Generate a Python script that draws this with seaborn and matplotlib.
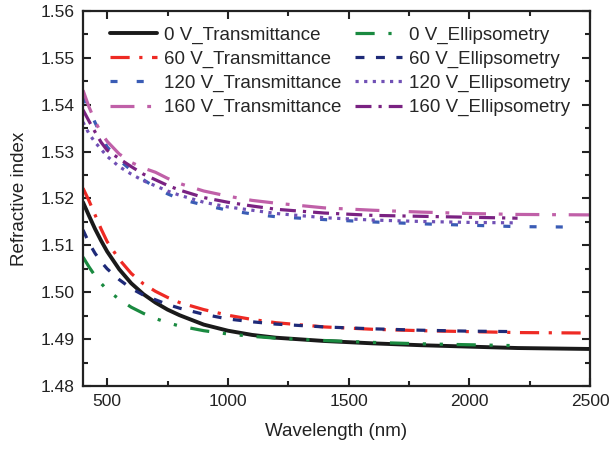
import matplotlib
matplotlib.use('Agg')
import matplotlib.pyplot as plt
from matplotlib.ticker import MultipleLocator
import seaborn as sns

# wavelength grids (nm)
wl_trans = [400, 425, 450, 475, 500, 550, 600, 650, 700, 750, 800, 900, 1000, 1100, 1200,
            1400, 1600, 1800, 2000, 2200, 2500]
wl_ellip = [400, 425, 450, 475, 500, 550, 600, 650, 700, 750, 800, 900, 1000, 1100, 1200,
            1400, 1600, 1800, 2000, 2200]
wl_120t = [400, 425, 450, 475, 500, 550, 600, 650, 700, 750, 800, 900, 1000, 1100, 1200,
           1400, 1600, 1800, 2000, 2200, 2450]

# refractive index values
n_0v_trans = [1.5192, 1.5163, 1.5135, 1.5110, 1.5087, 1.5049, 1.5019, 1.4996, 1.4978, 1.4963, 1.4951,
              1.4931, 1.4918, 1.4909, 1.4903, 1.4896, 1.4891, 1.4887, 1.4884, 1.4881, 1.4879]
n_60v_trans = [1.5222, 1.5195, 1.5165, 1.5135, 1.5108, 1.5070, 1.5040, 1.5018, 1.5002, 1.4989, 1.4978,
               1.4963, 1.4951, 1.4942, 1.4935, 1.4926, 1.4921, 1.4918, 1.4916, 1.4914, 1.4913]
n_120v_trans = [1.5417, 1.5390, 1.5362, 1.5335, 1.5310, 1.5282, 1.5260, 1.5240, 1.5224, 1.5210, 1.5199,
                1.5186, 1.5175, 1.5167, 1.5161, 1.5155, 1.5150, 1.5146, 1.5143, 1.5140, 1.5139]
n_160v_trans = [1.5431, 1.5395, 1.5365, 1.5340, 1.5322, 1.5295, 1.5277, 1.5265, 1.5256, 1.5243, 1.5232,
                1.5216, 1.5205, 1.5196, 1.5190, 1.5180, 1.5175, 1.5171, 1.5168, 1.5166, 1.5165]
n_0v_ellip = [1.5075, 1.5054, 1.5035, 1.5019, 1.5005, 1.4985, 1.4968, 1.4955, 1.4944, 1.4935, 1.4928,
              1.4918, 1.4911, 1.4906, 1.4902, 1.4897, 1.4893, 1.4890, 1.4888, 1.4886]
n_60v_ellip = [1.5133, 1.5105, 1.5083, 1.5065, 1.5050, 1.5027, 1.5008, 1.4994, 1.4984, 1.4974, 1.4966,
               1.4953, 1.4943, 1.4937, 1.4932, 1.4926, 1.4922, 1.4919, 1.4917, 1.4916]
n_120v_ellip = [1.5363, 1.5338, 1.5320, 1.5305, 1.5290, 1.5268, 1.5252, 1.5238, 1.5227, 1.5216, 1.5207,
                1.5192, 1.5182, 1.5175, 1.5168, 1.5159, 1.5154, 1.5151, 1.5149, 1.5148]
n_160v_ellip = [1.5389, 1.5365, 1.5342, 1.5320, 1.5303, 1.5285, 1.5268, 1.5252, 1.5240, 1.5228, 1.5218,
                1.5202, 1.5192, 1.5184, 1.5177, 1.5169, 1.5164, 1.5162, 1.5160, 1.5158]

sns.set_style('ticks')
plt.rcParams['font.family'] = ['Liberation Sans', 'DejaVu Sans']
plt.rcParams['font.size'] = 13.5

fig = plt.figure(figsize=(6.09, 4.49), dpi=100)
ax = fig.add_axes([83 / 609, 1 - 386 / 449, 507 / 609, 375 / 449])

# label, x, y, colour, dash pattern (None = solid)
series = [
    ('0 V_Transmittance', wl_trans, n_0v_trans, '#1a1a1a', None),
    ('60 V_Transmittance', wl_trans, n_60v_trans, '#ee2a24', (6, 3, 1, 3)),
    ('120 V_Transmittance', wl_120t, n_120v_trans, '#3a5cb5', (2.2, 6)),
    ('160 V_Transmittance', wl_trans, n_160v_trans, '#c060a8', (7.5, 4, 1.2, 4)),
    ('0 V_Ellipsometry', wl_ellip, n_0v_ellip, '#1a8a40', (6, 4.3, 1, 4.3, 1, 4.3)),
    ('60 V_Ellipsometry', wl_ellip, n_60v_ellip, '#1e2a78', (2.8, 3.6)),
    ('120 V_Ellipsometry', wl_ellip, n_120v_ellip, '#7050b5', (1, 1.7)),
    ('160 V_Ellipsometry', wl_ellip, n_160v_ellip, '#7a2282', (5, 2.2, 1, 2.2)),
]

for label, x, y, color, dash in series:
    ls = '-' if dash is None else (0, dash)
    lw = 2.8 if dash is None else 2.3
    sns.lineplot(x=x, y=y, ax=ax, color=color, linestyle=ls, linewidth=lw, label=label)

ax.set_xlim(400, 2500)
ax.set_ylim(1.48, 1.56)
ax.xaxis.set_major_locator(MultipleLocator(500))
ax.xaxis.set_minor_locator(MultipleLocator(250))
ax.yaxis.set_major_locator(MultipleLocator(0.01))
ax.yaxis.set_minor_locator(MultipleLocator(0.005))
ax.yaxis.set_major_formatter(plt.FormatStrFormatter('%.2f'))
ax.tick_params(which='both', direction='in', top=True, right=True, width=1.5, colors='#222222',
               labelcolor='#222222', labelsize=12.5)
ax.tick_params(which='major', length=6, pad=6)
ax.tick_params(which='minor', length=3.6)
for s in ax.spines.values():
    s.set_linewidth(1.6)
    s.set_color('#222222')

ax.set_xlabel('Wavelength (nm)', color='#222222', labelpad=10)
ax.set_ylabel('Refractive index', color='#222222', labelpad=9)

ax.legend(ncol=2, frameon=False, loc='upper left', bbox_to_anchor=(0.053, 0.958),
          borderaxespad=0, borderpad=0, handlelength=2.5, handletextpad=0.4,
          columnspacing=0.7, labelspacing=0.36)

fig.savefig('out.png', dpi=100)
